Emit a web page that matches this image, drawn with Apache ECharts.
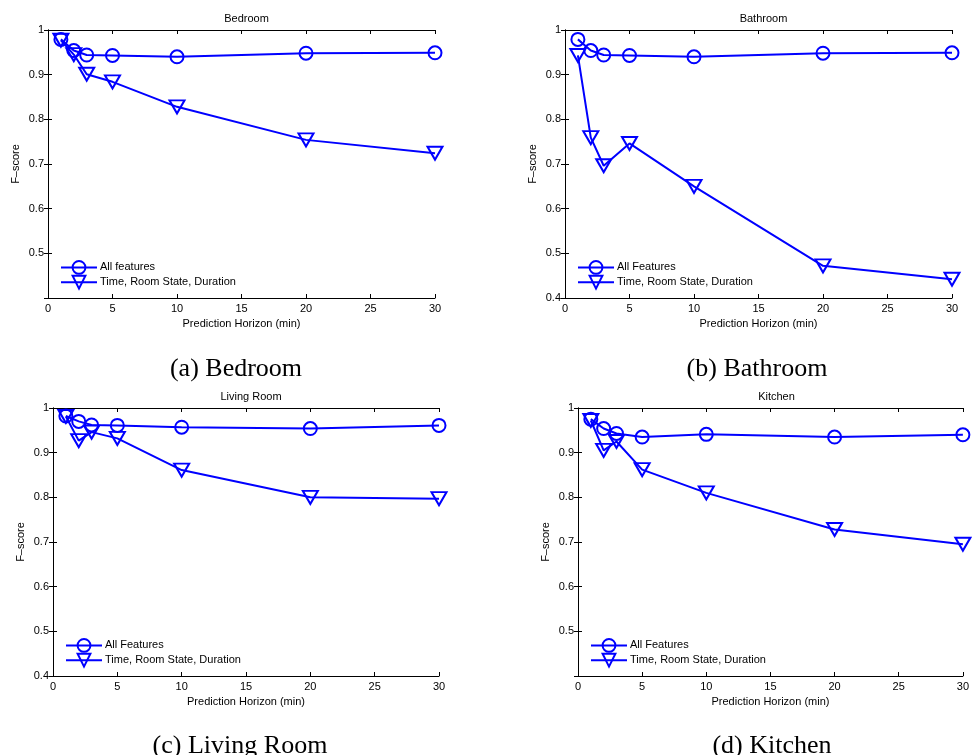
<!DOCTYPE html>
<html>
<head>
<meta charset="utf-8">
<script src="https://cdn.jsdelivr.net/npm/echarts@6/dist/echarts.min.js"></script>
<style>
html,body{margin:0;padding:0;background:#fff;}
#chart{width:972px;height:755px;}
</style>
</head>
<body>
<div id="chart"></div>
<script>
// ---- data ----
var horizons = [1, 2, 3, 5, 10, 20, 30];
var panelTitles = ['Bedroom', 'Bathroom', 'Living Room', 'Kitchen'];
var captions = ['(a) Bedroom', '(b) Bathroom', '(c) Living Room', '(d) Kitchen'];
var allLegendNames = ['All features', 'All Features', 'All Features', 'All Features'];
var subsetName = 'Time, Room State, Duration';

var bedroomAll = [0.979, 0.954, 0.944, 0.943, 0.940, 0.948, 0.949];
var bedroomSubset = [0.977, 0.945, 0.901, 0.884, 0.828, 0.754, 0.724];
var bathroomAll = [0.979, 0.954, 0.944, 0.943, 0.940, 0.948, 0.949];
var bathroomSubset = [0.943, 0.759, 0.696, 0.746, 0.650, 0.472, 0.442];
var livingAll = [0.982, 0.970, 0.962, 0.961, 0.957, 0.954, 0.961];
var livingSubset = [0.981, 0.927, 0.946, 0.932, 0.861, 0.800, 0.797];
var kitchenAll = [0.975, 0.954, 0.943, 0.935, 0.941, 0.935, 0.940];
var kitchenSubset = [0.972, 0.905, 0.925, 0.862, 0.810, 0.728, 0.695];

var xTicks = [0, 5, 10, 15, 20, 25, 30];
var yTicks = [0.4, 0.5, 0.6, 0.7, 0.8, 0.9, 1];
var showBottomYLabel = [false, true, true, false];

var allSeries = [bedroomAll, bathroomAll, livingAll, kitchenAll];
var subsetSeries = [bedroomSubset, bathroomSubset, livingSubset, kitchenSubset];

// ---- layout ----
var grids = [
  {left: 48, top: 30, width: 387, height: 268},
  {left: 565, top: 30, width: 387, height: 268},
  {left: 53, top: 408, width: 386, height: 268},
  {left: 578, top: 408, width: 387, height: 268}
];
var captionPos = [[231, 351], [752, 351], [235, 728], [767, 728]];

var BLUE = '#0000ff';
var FONT = '"Liberation Sans", Arial, Helvetica, sans-serif';
var downTri = 'path://M0,0L10,0L5,8.7Z';

var option = {
  backgroundColor: '#fff',
  animation: false,
  grid: grids.map(function (g) {
    return {left: g.left, top: g.top, width: g.width, height: g.height, containLabel: false};
  }),
  title: [],
  legend: [],
  xAxis: [],
  yAxis: [],
  series: []
};

function pairs(ys) { return horizons.map(function (x, i) { return [x, ys[i]]; }); }

grids.forEach(function (g, k) {
  option.title.push({
    text: panelTitles[k],
    left: g.left + g.width / 2, top: g.top - 22, textAlign: 'center',
    textStyle: {fontFamily: FONT, fontSize: 11, fontWeight: 'normal', color: '#000'}
  });
  option.title.push({
    text: captions[k],
    left: captionPos[k][0], top: captionPos[k][1], textAlign: 'center',
    textStyle: {fontFamily: '"Liberation Serif", "DejaVu Serif", serif', fontSize: 26, fontWeight: 'normal', color: '#000'}
  });
  var axisLine = {show: true, lineStyle: {color: '#000', width: 1}};
  var tick = {show: true, inside: true, length: 4, lineStyle: {color: '#000'}};
  option.xAxis.push({
    type: 'value', gridIndex: k, min: xTicks[0], max: xTicks[xTicks.length - 1], interval: 5,
    position: 'bottom',
    name: 'Prediction Horizon (min)', nameLocation: 'middle', nameGap: 20,
    nameTextStyle: {fontFamily: FONT, fontSize: 11, color: '#000'},
    axisLine: axisLine, axisTick: tick, splitLine: {show: false},
    axisLabel: {fontFamily: FONT, fontSize: 11, color: '#000', margin: 5}
  });
  option.xAxis.push({
    type: 'value', gridIndex: k, min: xTicks[0], max: xTicks[xTicks.length - 1], interval: 5,
    position: 'top', axisLine: axisLine, axisTick: tick, splitLine: {show: false},
    axisLabel: {show: false}
  });
  var showBottom = showBottomYLabel[k];
  option.yAxis.push({
    type: 'value', gridIndex: k, min: yTicks[0], max: yTicks[yTicks.length - 1], interval: 0.1,
    position: 'left',
    name: 'F\u2013score', nameLocation: 'middle', nameGap: 27,
    nameTextStyle: {fontFamily: FONT, fontSize: 11, color: '#000'},
    axisLine: axisLine, axisTick: tick, splitLine: {show: false},
    axisLabel: {
      fontFamily: FONT, fontSize: 11, color: '#000', margin: 4,
      formatter: function (v) {
        var r = Math.round(v * 10) / 10;
        if (r === yTicks[0] && !showBottom) return '';
        return String(r);
      }
    }
  });
  option.yAxis.push({
    type: 'value', gridIndex: k, min: yTicks[0], max: yTicks[yTicks.length - 1], interval: 0.1,
    position: 'right', axisLine: axisLine, axisTick: tick, splitLine: {show: false},
    axisLabel: {show: false}
  });

  // make names unique per panel with trailing zero-width characters
  var suffix = new Array(k + 1).join('\u200b');
  var nameA = allLegendNames[k] + suffix;
  var nameT = subsetName + suffix;
  option.series.push({
    type: 'line', name: nameA, xAxisIndex: 2 * k, yAxisIndex: 2 * k,
    data: pairs(allSeries[k]),
    symbol: 'circle', symbolSize: 13, z: 3,
    lineStyle: {color: BLUE, width: 2},
    itemStyle: {color: 'rgba(0,0,0,0)', borderColor: BLUE, borderWidth: 2}
  });
  option.series.push({
    type: 'line', name: nameT, xAxisIndex: 2 * k, yAxisIndex: 2 * k,
    data: pairs(subsetSeries[k]),
    symbol: downTri, symbolSize: [15, 13], z: 2,
    lineStyle: {color: BLUE, width: 2},
    itemStyle: {color: 'rgba(0,0,0,0)', borderColor: BLUE, borderWidth: 2}
  });
  option.legend.push({
    data: [nameA, nameT],
    orient: 'vertical',
    left: g.left + 12, top: g.top + g.height - 38,
    itemWidth: 36, itemHeight: 16, itemGap: 0,
    selectedMode: false,
    textStyle: {fontFamily: FONT, fontSize: 11, color: '#000', padding: [0, 0, 0, -2]},
    padding: 0
  });
});

var chart = echarts.init(document.getElementById('chart'), null, {renderer: 'canvas'});
chart.setOption(option);
</script>
</body>
</html>
